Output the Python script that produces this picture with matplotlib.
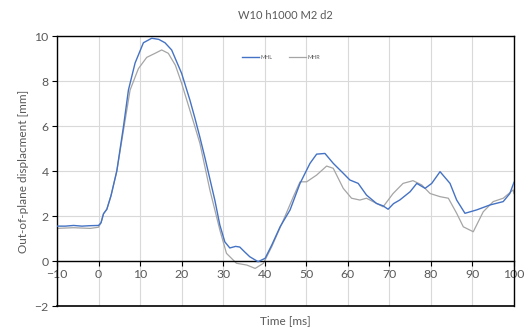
import matplotlib
matplotlib.use("Agg")
import matplotlib.pyplot as plt

# MHL (blue)
mhl_t = [-10, -8, -6, -4, -2, 0, 0.6, 1.2, 2.0, 3.0, 4.4, 6.0, 7.2, 8.8, 10.8, 12.8, 14.5, 16.0,
         17.6, 20.0, 22.0, 23.2, 24.4, 25.6, 26.8, 28.0, 29.2, 30.4, 31.6, 33.0, 34.0, 35.2,
         36.4, 38.4, 40.1, 41.7, 43.7, 46.1, 48.5, 50.9, 52.5, 54.5, 56.5, 58.9, 60.5, 62.5,
         64.5, 66.9, 68.5, 69.7, 71.0, 72.5, 75.0, 76.6, 78.6, 80.2, 82.2, 84.6, 86.2, 88.2,
         91.0, 94.2, 97.4, 99.0, 100]
mhl_v = [1.55, 1.55, 1.58, 1.55, 1.57, 1.58, 1.7, 2.1, 2.3, 2.9, 4.0, 5.97, 7.6, 8.8, 9.7, 9.9, 9.85, 9.7,
         9.38, 8.34, 7.15, 6.35, 5.5, 4.6, 3.65, 2.7, 1.6, 0.85, 0.58, 0.65, 0.62, 0.4,
         0.19, -0.03, 0.12, 0.71, 1.52, 2.27, 3.45, 4.34, 4.75, 4.78, 4.34, 3.9, 3.6, 3.45,
         2.93, 2.56, 2.45, 2.3, 2.55, 2.71, 3.08, 3.45, 3.23, 3.45, 3.97, 3.45, 2.71, 2.12,
         2.27, 2.49, 2.64, 3.0, 3.5]

# MHR (grey)
mhr_t = [-10, -6, -2, 0, 0.6, 1.2, 2.0, 3.0, 4.4, 6.0, 7.6, 9.6, 11.6, 13.6, 15.2, 16.8, 18.5,
         20.0, 23.2, 24.4, 26.8, 29.2, 30.8, 33.2, 35.7, 37.7, 39.7, 41.7, 44.5, 46.9, 48.5,
         50.1, 52.5, 54.9, 56.5, 58.9, 60.9, 62.9, 64.5, 66.9, 68.5, 70.9, 73.3, 75.7, 77.8,
         79.8, 82.2, 84.2, 86.2, 87.8, 90.2, 92.6, 95.0, 97.4, 99.8, 100]
mhr_v = [1.45, 1.48, 1.45, 1.5, 1.7, 2.1, 2.3, 2.9, 4.0, 5.8, 7.6, 8.55, 9.05, 9.23, 9.38, 9.23, 8.7,
         7.9, 5.97, 5.23, 3.16, 1.38, 0.34, -0.1, -0.18, -0.33, -0.1, 0.64, 1.82, 2.86, 3.52,
         3.52, 3.82, 4.22, 4.12, 3.23, 2.79, 2.71, 2.79, 2.56, 2.41, 3.0, 3.45, 3.57, 3.38,
         3.0, 2.86, 2.79, 2.12, 1.52, 1.3, 2.19, 2.64, 2.79, 3.16, 3.0]

xticks = list(range(-10, 101, 10))
yticks = list(range(-2, 11, 2))
grey = "#595959"

plt.rcParams['font.family'] = ['Lato', 'DejaVu Sans']
fig = plt.figure(figsize=(5.3, 3.3), dpi=100)
ax = fig.add_axes([0.1075, 0.0727, 0.8623, 0.8182])

ax.plot(mhl_t, mhl_v, color="#4472C4", lw=1.0, label="MHL", zorder=3)
ax.plot(mhr_t, mhr_v, color="#A5A5A5", lw=0.9, label="MHR", zorder=2)

ax.set_xlim(-10, 100)
ax.set_ylim(-2, 10)
ax.set_xticks(xticks)
ax.set_yticks(yticks)
ax.grid(True, color="#D9D9D9", lw=0.8)
ax.set_axisbelow(True)

# x axis crosses at y=0, frame kept round the plot area
ax.spines['bottom'].set_position(('data', 0))
ax.axhline(-2, color="black", lw=1.2, clip_on=False)
for s in ax.spines.values():
    s.set_color("black")
    s.set_linewidth(1.0)

ax.tick_params(axis='both', direction='out', length=3.5, width=0.8, color="black",
               labelsize=8.8, labelcolor=grey, pad=2.5)

ax.set_title("W10 h1000 M2 d2", fontsize=8, color=grey, pad=12)
ax.set_xlabel("Time [ms]", fontsize=8.5, color=grey)
ax.xaxis.set_label_coords(0.5, -0.035)
ax.set_ylabel("Out-of-plane displacment [mm]", fontsize=8.5, color=grey)
ax.yaxis.set_label_coords(-0.062, 0.5)

leg = ax.legend(loc='center', bbox_to_anchor=(0.49, 0.92), ncol=2, frameon=False,
                fontsize=4, handlelength=3, columnspacing=3, handletextpad=0.3)
for t in leg.get_texts():
    t.set_color(grey)

fig.savefig("out.png", dpi=100)
